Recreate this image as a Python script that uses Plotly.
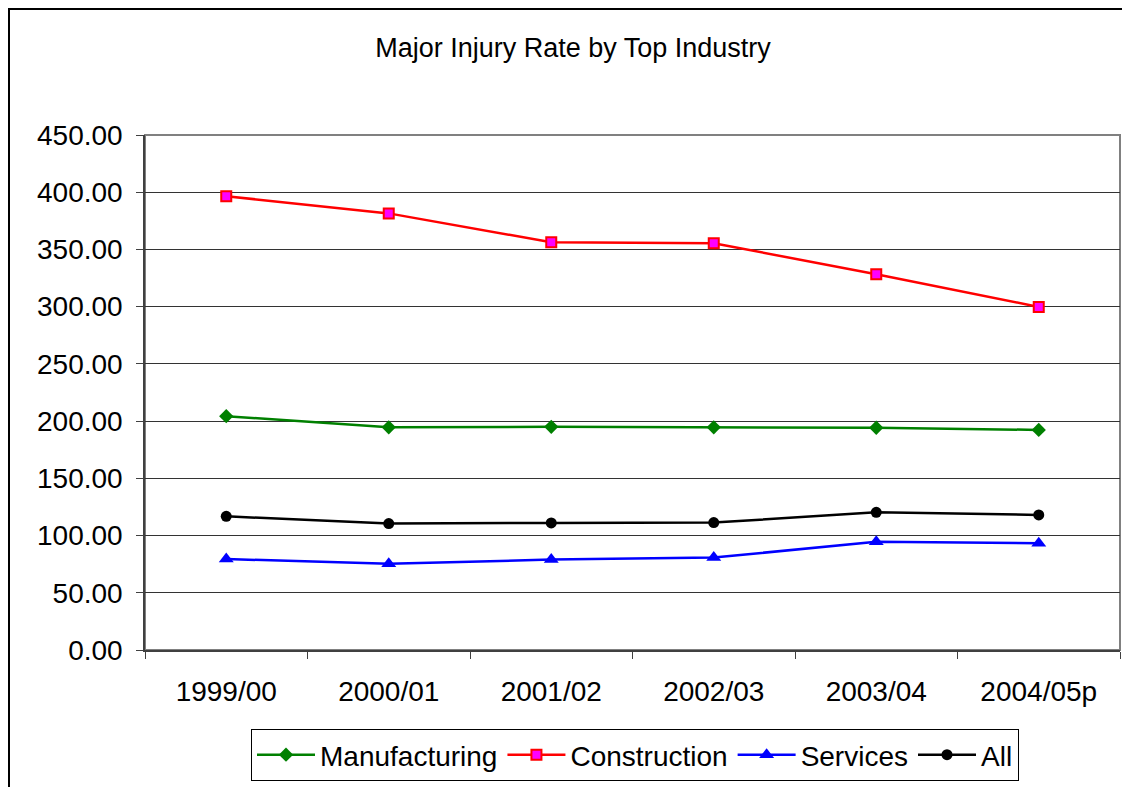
import plotly.graph_objects as go

periods = ["1999/00", "2000/01", "2001/02", "2002/03", "2003/04", "2004/05p"]
manufacturing = [204.3, 194.6, 195.0, 194.6, 194.2, 192.3]
construction = [396.5, 381.5, 356.3, 355.4, 328.3, 299.8]
services = [79.5, 75.3, 79.0, 80.8, 94.5, 93.3]
all_industries = [116.8, 110.5, 111.0, 111.3, 120.3, 118.0]

FONT = "Liberation Sans, Arial, sans-serif"

fig = go.Figure()
fig.add_trace(go.Scatter(x=periods, y=manufacturing, name="Manufacturing", mode="lines+markers",
                         line=dict(color="#008000", width=2.5),
                         marker=dict(symbol="diamond", size=11, color="#008000")))
fig.add_trace(go.Scatter(x=periods, y=construction, name="Construction", mode="lines+markers",
                         line=dict(color="#FF0000", width=2.5),
                         marker=dict(symbol="square", size=10, color="#FF00FF",
                                     line=dict(color="#FF0000", width=2))))
fig.add_trace(go.Scatter(x=periods, y=services, name="Services", mode="lines+markers",
                         line=dict(color="#0000FF", width=2.5),
                         marker=dict(symbol="triangle-up", size=13, color="#0000FF")))
fig.add_trace(go.Scatter(x=periods, y=all_industries, name="All", mode="lines+markers",
                         line=dict(color="#000000", width=2.5),
                         marker=dict(symbol="circle", size=11, color="#000000")))

# page body has an 8px margin; work in figure coordinates
OFF = 8
W, H = 1130 - OFF, 787 - OFF
L, R, T, B = 145 - OFF, 1120 - OFF, 135 - OFF, 650 - OFF

def px_to_paper_x(px):
    return (px - OFF - L) / (R - L)

def px_to_paper_y(py):
    return (B - (py - OFF)) / (B - T)

fig.update_layout(
    width=W, height=H,
    margin=dict(l=L, r=W - R, t=T, b=H - B, pad=0),
    paper_bgcolor="white", plot_bgcolor="white",
    font=dict(family=FONT, color="black", size=28),
    title=dict(text="Major Injury Rate by Top Industry", x=(573 - OFF) / W, xanchor="center",
               y=1 - (48 - OFF) / H, yanchor="middle", yref="container", xref="container",
               font=dict(family=FONT, size=27, color="black")),
    showlegend=True,
    legend=dict(orientation="h", xref="container", yref="container",
                x=(635 - OFF) / W, xanchor="center", y=1 - (729 - OFF) / H, yanchor="top",
                bordercolor="black", borderwidth=1, bgcolor="white",
                font=dict(family=FONT, size=28, color="black"),
                itemwidth=58, traceorder="normal"),
    xaxis=dict(type="category", range=[-0.5, 5.5], showgrid=False, zeroline=False,
               showline=True, linecolor="#404040", linewidth=1.5,
               ticks="outside", tickson="boundaries", ticklen=7, tickcolor="#404040",
               tickfont=dict(family=FONT, size=28, color="black"),
               ticklabelstandoff=16, fixedrange=True),
    yaxis=dict(range=[0, 450], dtick=50, tick0=0, tickformat=".2f",
               showgrid=True, gridcolor="#333333", gridwidth=1, zeroline=False,
               showline=True, linecolor="#404040", linewidth=1.5,
               ticks="outside", ticklen=7, tickcolor="#404040",
               tickfont=dict(family=FONT, size=28, color="black"),
               ticklabelstandoff=8, fixedrange=True),
    shapes=[
        dict(type="rect", xref="paper", yref="paper", x0=0, x1=1, y0=0, y1=1,
             line=dict(color="#808080", width=2), layer="below"),
        dict(type="rect", xref="paper", yref="paper",
             x0=px_to_paper_x(9), x1=px_to_paper_x(1140),
             y0=px_to_paper_y(800), y1=px_to_paper_y(9),
             line=dict(color="black", width=2), layer="below"),
    ],
)

fig.write_html("out.html")
